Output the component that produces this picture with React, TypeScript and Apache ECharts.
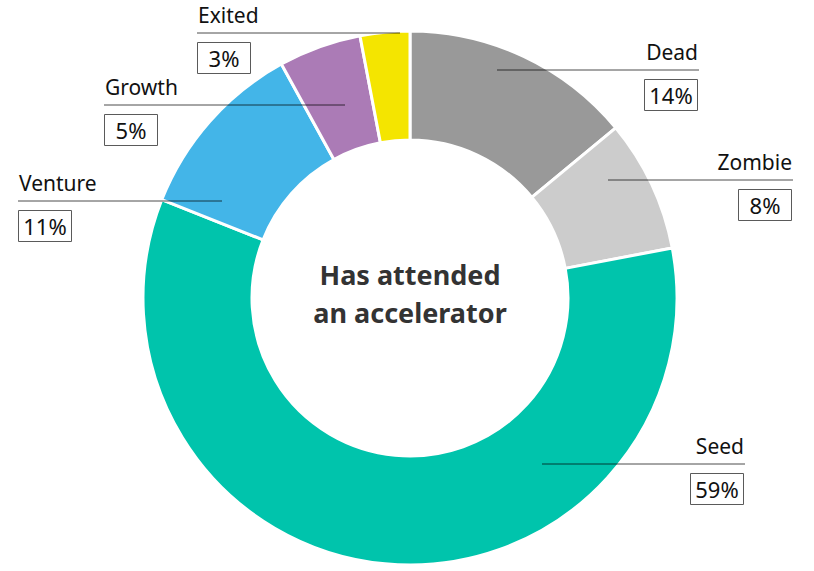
import { useEffect, useRef } from "react";
import * as echarts from "echarts";

const categories = ["Dead", "Zombie", "Seed", "Venture", "Growth", "Exited"];
const shares = [14, 8, 59, 11, 5, 3];
const sliceColors = ["#999999", "#cccccc", "#00c4ac", "#43b5e8", "#ab7bb6", "#f4e500"];
const centerLines = ["Has attended", "an accelerator"];

// hand placed leader lines: y of the line, x where it starts in the slice, x of the label edge
const leaders = [
  { side: "right", y: 70, from: 497, to: 699 },
  { side: "right", y: 180, from: 608, to: 793 },
  { side: "right", y: 464, from: 542, to: 745 },
  { side: "left", y: 201, from: 222, to: 18 },
  { side: "left", y: 105, from: 345, to: 104 },
  { side: "left", y: 33, from: 400, to: 197 },
];

const FONT = "'Noto Sans', 'Open Sans', sans-serif";
const BOX_W = 53;

export default function App() {
  const ref = useRef<HTMLDivElement | null>(null);

  useEffect(() => {
    if (!ref.current) return;
    const chart = echarts.init(ref.current, undefined, { renderer: "svg" });

    const pieBase = {
      type: "pie" as const,
      center: [410, 298],
      radius: [158, 267],
      startAngle: 90,
      clockwise: true,
      silent: true,
      avoidLabelOverlap: false,
    };

    // transparent copy of the ring, so its labels and leader lines sit above the slices
    const ghost = {
      ...pieBase,
      data: categories.map((name, i) => ({ name, value: shares[i] })),
      itemStyle: { color: "transparent", borderWidth: 0 },
      z: 3,
    };

    const option: echarts.EChartsOption = {
      animation: false,
      backgroundColor: "#ffffff",
      graphic: [
        {
          type: "text",
          x: 410,
          y: 293,
          style: {
            text: centerLines.join("\n"),
            fill: "#333333",
            font: `bold 27px ${FONT}`,
            lineHeight: 38,
            align: "center",
            verticalAlign: "middle",
          },
        },
      ],
      series: [
        {
          ...pieBase,
          data: categories.map((name, i) => ({
            name,
            value: shares[i],
            itemStyle: { color: sliceColors[i] },
          })),
          itemStyle: { borderColor: "#ffffff", borderWidth: 3 },
          label: { show: false },
          labelLine: { show: false },
          z: 1,
        },
        {
          ...ghost,
          label: {
            show: true,
            position: "outside",
            formatter: "{b}",
            fontFamily: FONT,
            fontSize: 21,
            color: "#111111",
          },
          labelLine: {
            show: true,
            length: 0,
            length2: 0,
            lineStyle: { color: "rgba(0,0,0,0.7)", width: 1 },
          },
          // eslint-disable-next-line @typescript-eslint/no-explicit-any
          labelLayout: (params: any) => {
            const l = leaders[params.dataIndex];
            return {
              x: l.side === "right" ? l.to - 1 : l.to + 1,
              y: l.y - 18,
              align: l.side === "right" ? "right" : "left",
              verticalAlign: "middle",
              labelLinePoints: [
                [l.from, l.y],
                [l.from, l.y],
                [l.to, l.y],
              ],
            };
          },
        },
        {
          ...ghost,
          label: {
            show: true,
            position: "outside",
            // eslint-disable-next-line @typescript-eslint/no-explicit-any
            formatter: (p: any) => `${Math.round(p.percent)}%`,
            fontFamily: FONT,
            fontSize: 22,
            color: "#111111",
            width: BOX_W,
            lineHeight: 24,
            padding: [4, 0, 3, 0],
            borderColor: "#5a5a5a",
            borderWidth: 1,
          },
          labelLine: { show: false },
          // eslint-disable-next-line @typescript-eslint/no-explicit-any
          labelLayout: (params: any) => {
            const l = leaders[params.dataIndex];
            const half = (BOX_W + 1) / 2;
            return {
              x: l.side === "right" ? l.to - 1 - half : l.to + half,
              y: l.y + 25,
              align: "center",
              verticalAlign: "middle",
            };
          },
        },
      ],
    };

    chart.setOption(option);
    return () => chart.dispose();
  }, []);

  return (
    <div
      ref={ref}
      style={{ position: "absolute", left: 0, top: 0, width: 814, height: 571 }}
    />
  );
}
